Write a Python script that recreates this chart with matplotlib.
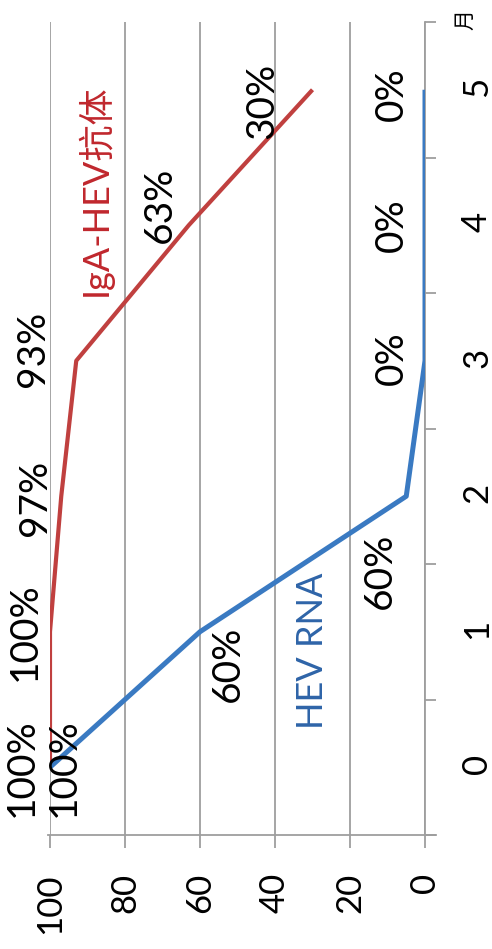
import matplotlib.pyplot as plt

# 月份与两条曲线（阳性率 %）
months = [0, 1, 2, 3, 4, 5]
iga_hev = [100, 100, 97, 93, 63, 30]
hev_rna = [100, 60, 5, 0, 0, 0]

iga_labels = ["100%", "100%", "97%", "93%", "63%", "30%"]
rna_labels = ["100%", "60%", "60%", "0%", "0%", "0%"]
value_ticks = [100, 80, 60, 40, 20, 0]

# 标签相对数据点的偏移（像素）
iga_offsets = [(-28, 0), (-25, 0), (-26, -2), (-43, 12), (-29, 20), (-50, -11)]
rna_offsets = [(14, 0), (28, -32), (-26, -75), (-33, 3), (-33, 0), (-33, -4)]

RED = "#C0403F"
BLUE = "#3A7AC2"
GRID = "#9E9E9E"

plt.rcParams['font.family'] = ['Lato', 'Noto Sans CJK SC', 'DejaVu Sans']

fig = plt.figure(figsize=(4.92, 9.49), dpi=100)
W, H = 492, 949
ax = fig.add_axes([50 / W, (H - 835) / H, 375 / W, (835 - 22) / H])

# 图是竖着放的：数值在横轴（从右到左），月份在纵轴
ax.plot(iga_hev, months, color=RED, lw=3.0, solid_capstyle='butt', zorder=3)
ax.plot(hev_rna, months, color=BLUE, lw=3.6, solid_capstyle='butt', zorder=3)

ax.set_xlim(100, 0)
ax.set_ylim(-0.5, 5.5)

ax.set_xticks(value_ticks)
ax.set_xticklabels([str(v) for v in value_ticks], rotation=90, fontsize=25)
ax.tick_params(axis='x', direction='out', length=9.5, width=1.3, color=GRID,
               pad=18)
for lab in ax.get_xticklabels():
    lab.set_verticalalignment('top')

ax.yaxis.tick_right()
ax.set_yticks(months)
ax.set_yticklabels([str(m) for m in months], rotation=90, fontsize=25)
ax.tick_params(axis='y', which='major', length=0, pad=26)
ax.set_yticks([m - 0.5 for m in months] + [5.5], minor=True)
ax.tick_params(axis='y', which='minor', direction='out', length=8, width=1.3,
               color=GRID)

ax.grid(axis='x', color=GRID, lw=1.3)
ax.set_axisbelow(True)
for side in ['top', 'left']:
    ax.spines[side].set_visible(False)
for side in ['bottom', 'right']:
    ax.spines[side].set_color(GRID)
    ax.spines[side].set_linewidth(1.3)
ax.spines['bottom'].set_bounds(100.5, -2.9)

for x, y, s, (dx, dy) in zip(iga_hev, months, iga_labels, iga_offsets):
    ax.annotate(s, (x, y), xytext=(dx, dy), textcoords='offset pixels',
                rotation=90, ha='center', va='center', fontsize=28,
                color='black', annotation_clip=False)
for x, y, s, (dx, dy) in zip(hev_rna, months, rna_labels, rna_offsets):
    ax.annotate(s, (x, y), xytext=(dx, dy), textcoords='offset pixels',
                rotation=90, ha='center', va='center', fontsize=28,
                color='black', annotation_clip=False)

# 曲线名称
ax.text(88, 4.26, "IgA-HEV抗体", rotation=90, ha='center', va='center',
        fontsize=26, color="#C0272D")
ax.text(30, 0.86, "HEV RNA", rotation=90, ha='center', va='center',
        fontsize=26, color="#2E64A8")

fig.text(465 / W, (H - 20) / H, "月", rotation=90, ha='center', va='center',
         fontsize=15)

fig.savefig("out.png", dpi=100)
